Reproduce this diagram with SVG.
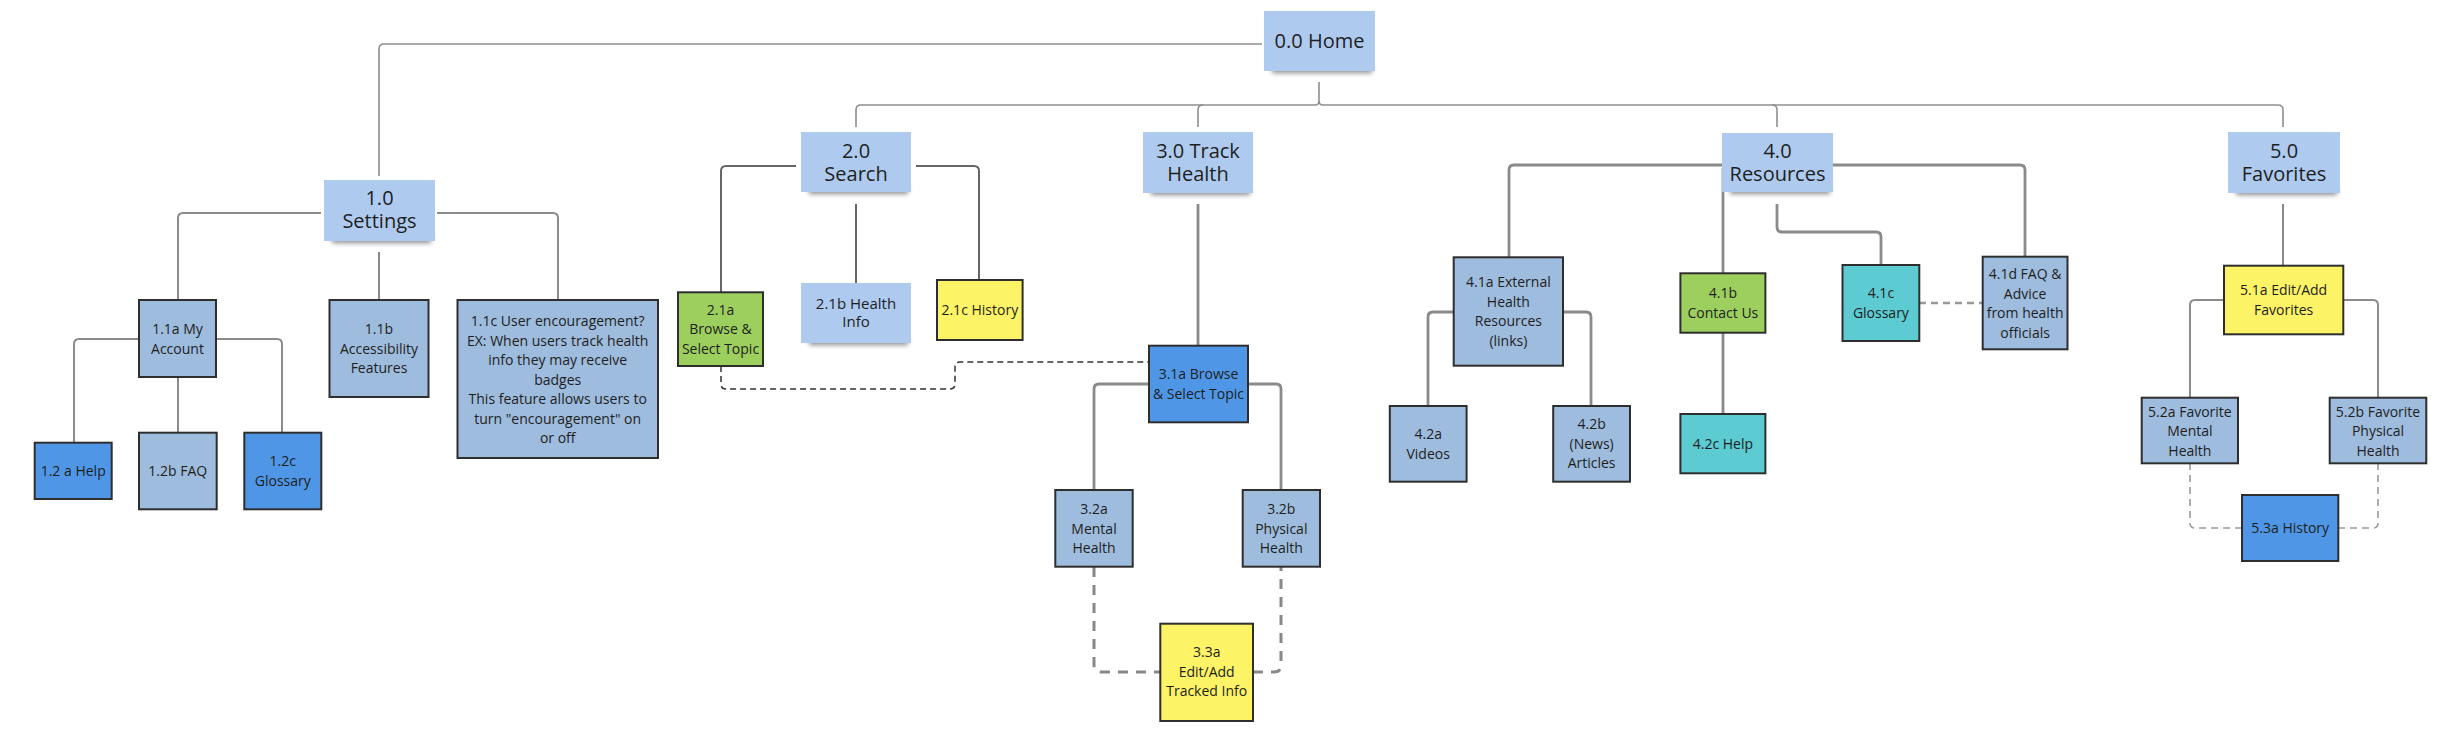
<svg xmlns="http://www.w3.org/2000/svg" width="2450" height="732" viewBox="0 0 2450 732">
<defs>
<filter id="blur" x="-20%" y="-100%" width="140%" height="300%"><feGaussianBlur stdDeviation="2.5"/></filter>
<style>
text{font-family:"Open Sans","Liberation Sans",sans-serif;fill:#1e1e1e;text-anchor:middle}
.t{font-size:20px}
.s{font-size:14px}
.n{font-size:15px}
.note{fill:#aecbef}
.shd{fill:#000;opacity:0.45;filter:url(#blur)}
.b{stroke:#2e2e2e;stroke-width:2}
.lb{fill:#9ebcdd}
.bl{fill:#4f97e6}
.gr{fill:#9dcf5f}
.ye{fill:#fdf366}
.te{fill:#5ccbd2}
.c{fill:none;stroke:#8e8e8e;stroke-width:1.6}
.c2{fill:none;stroke:#8a8a8a;stroke-width:2}
.c3{fill:none;stroke:#666;stroke-width:2}
.c4{fill:none;stroke:#8a8a8a;stroke-width:2.8}
.d1{fill:none;stroke:#333;stroke-width:1.5;stroke-dasharray:6 4}
.d2{fill:none;stroke:#888;stroke-width:3;stroke-dasharray:10 8}
.d3{fill:none;stroke:#999;stroke-width:1.6;stroke-dasharray:7 5}
</style>
</defs>
<rect width="2450" height="732" fill="#ffffff"/>
<g id="connectors">
<path class="c" d="M1262,44 H384 Q379,44 379,49 V176"/>
<path class="c" d="M1319,82 V101 Q1319,105 1315,105 H861 Q856,105 856,110 V127"/>
<path class="c" d="M1319,101 Q1319,105 1323,105 H2278 Q2283,105 2283,110 V127"/>
<path class="c" d="M1203,105 Q1198,105 1198,110 V127"/>
<path class="c" d="M1772,105 Q1777,105 1777,110 V127"/>
<path class="c2" d="M321,213 H183 Q178,213 178,218 V300"/>
<path class="c2" d="M437,213 H553 Q558,213 558,218 V300"/>
<path class="c2" d="M379,252 V300"/>
<path class="c2" d="M139,339 H79 Q74,339 74,344 V443"/>
<path class="c2" d="M216,339 H277 Q282,339 282,344 V433"/>
<path class="c2" d="M178,377 V433"/>
<path class="c3" d="M796,166 H726 Q721,166 721,171 V292"/>
<path class="c3" d="M916,166 H974 Q979,166 979,171 V280"/>
<path class="c3" d="M856,204 V283"/>
<path class="c4" d="M1198,204 V346"/>
<path class="d1" d="M721,366 V384 Q721,389 726,389 H950 Q955,389 955,384 V367 Q955,362 960,362 H1149"/>
<path class="c4" d="M1149,384 H1099 Q1094,384 1094,389 V490"/>
<path class="c4" d="M1248,384 H1276 Q1281,384 1281,389 V490"/>
<path class="d2" d="M1094,567 V665 Q1094,672 1101,672 H1160"/>
<path class="d2" d="M1253,672 H1274 Q1281,672 1281,665 V567"/>
<path class="c4" d="M1722,165 H1514 Q1509,165 1509,170 V257"/>
<path class="c4" d="M1833,165 H2020 Q2025,165 2025,170 V257"/>
<path class="c4" d="M1723,168 V273"/>
<path class="c4" d="M1777,204 V227 Q1777,232 1782,232 H1876 Q1881,232 1881,237 V265"/>
<path class="c4" d="M1723,333 V414"/>
<path class="c4" d="M1454,312 H1433 Q1428,312 1428,317 V406"/>
<path class="c4" d="M1563,312 H1586 Q1591,312 1591,317 V406"/>
<path class="d3" d="M1919,303 H1983" style="stroke-width:2.5"/>
<path class="c2" d="M2283,204 V266"/>
<path class="c2" d="M2224,300 H2195 Q2190,300 2190,305 V398"/>
<path class="c2" d="M2343,300 H2373 Q2378,300 2378,305 V398"/>
<path class="d3" d="M2190,463 V523 Q2190,528 2195,528 H2242"/>
<path class="d3" d="M2338,528 H2373 Q2378,528 2378,523 V463"/>
</g>
<g id="n00"><rect class="shd" x="1272" y="65" width="100" height="8"/><rect class="note" x="1264" y="11" width="111" height="60"/><text class="t" x="1319.5" y="48">0.0 Home</text></g>
<g id="n10"><rect class="shd" x="332" y="235" width="99" height="8"/><rect class="note" x="324" y="180" width="111" height="61"/><text class="t" x="379.5" y="205">1.0</text><text class="t" x="379.5" y="228">Settings</text></g>
<g id="n20"><rect class="shd" x="809" y="186" width="99" height="8"/><rect class="note" x="801" y="132" width="110" height="60"/><text class="t" x="856" y="158">2.0</text><text class="t" x="856" y="181">Search</text></g>
<g id="n30"><rect class="shd" x="1151" y="187" width="99" height="8"/><rect class="note" x="1143" y="132" width="110" height="61"/><text class="t" x="1198" y="158">3.0 Track</text><text class="t" x="1198" y="181">Health</text></g>
<g id="n40"><rect class="shd" x="1730" y="186" width="100" height="8"/><rect class="note" x="1722" y="133" width="111" height="59"/><text class="t" x="1777.5" y="157.5">4.0</text><text class="t" x="1777.5" y="181">Resources</text></g>
<g id="n50"><rect class="shd" x="2236" y="187" width="101" height="8"/><rect class="note" x="2228" y="132" width="112" height="61"/><text class="t" x="2284" y="158">5.0</text><text class="t" x="2284" y="181">Favorites</text></g>
<g id="n11a"><rect class="b lb" x="139" y="300" width="77" height="77"/><text class="s" x="177.5" y="334">1.1a My</text><text class="s" x="177.5" y="353.5">Account</text></g>
<g id="n11b"><rect class="b lb" x="329.5" y="300" width="99" height="97"/><text class="s" x="379" y="334">1.1b</text><text class="s" x="379" y="353.5">Accessibility</text><text class="s" x="379" y="373">Features</text></g>
<g id="n11c"><rect class="b lb" x="457.5" y="300" width="200.5" height="158"/><text class="s" x="557.7" y="326"><tspan x="557.7">1.1c User encouragement?</tspan><tspan x="557.7" dy="19.5">EX: When users track health</tspan><tspan x="557.7" dy="19.5">info they may receive</tspan><tspan x="557.7" dy="19.5">badges</tspan><tspan x="557.7" dy="19.5">This feature allows users to</tspan><tspan x="557.7" dy="19.5">turn "encouragement" on</tspan><tspan x="557.7" dy="19.5">or off</tspan></text></g>
<g id="n12a"><rect class="b bl" x="34.7" y="442.7" width="77" height="56.3"/><text class="s" x="73.2" y="476">1.2 a Help</text></g>
<g id="n12b"><rect class="b lb" x="139" y="432.7" width="77.7" height="76.6"/><text class="s" x="177.8" y="476">1.2b FAQ</text></g>
<g id="n12c"><rect class="b bl" x="244.3" y="432.7" width="77" height="76.6"/><text class="s" x="282.8" y="466">1.2c</text><text class="s" x="282.8" y="485.5">Glossary</text></g>
<g id="n21a"><rect class="b gr" x="678" y="292.3" width="85" height="73.7"/><text class="s" x="720.5" y="314.5">2.1a</text><text class="s" x="720.5" y="334">Browse &amp;</text><text class="s" x="720.5" y="353.5">Select Topic</text></g>
<g id="n21b"><rect class="shd" x="809" y="337" width="99" height="8"/><rect class="note" x="801" y="283" width="110" height="60"/><text class="n" x="856" y="309">2.1b Health</text><text class="n" x="856" y="327">Info</text></g>
<g id="n21c"><rect class="b ye" x="937" y="280" width="85.6" height="60"/><text class="s" x="979.8" y="315">2.1c History</text></g>
<g id="n31a"><rect class="b bl" x="1149" y="345.7" width="99" height="76.6"/><text class="s" x="1198.5" y="379">3.1a Browse</text><text class="s" x="1198.5" y="398.5">&amp; Select Topic</text></g>
<g id="n32a"><rect class="b lb" x="1055.3" y="490" width="77.4" height="76.7"/><text class="s" x="1094" y="514">3.2a</text><text class="s" x="1094" y="533.5">Mental</text><text class="s" x="1094" y="553">Health</text></g>
<g id="n32b"><rect class="b lb" x="1242.7" y="490" width="77.3" height="76.7"/><text class="s" x="1281.3" y="514">3.2b</text><text class="s" x="1281.3" y="533.5">Physical</text><text class="s" x="1281.3" y="553">Health</text></g>
<g id="n33a"><rect class="b ye" x="1160.3" y="623.7" width="92.7" height="97.3"/><text class="s" x="1206.7" y="657">3.3a</text><text class="s" x="1206.7" y="676.5">Edit/Add</text><text class="s" x="1206.7" y="696">Tracked Info</text></g>
<g id="n41a"><rect class="b lb" x="1453.7" y="257.3" width="109.3" height="108.4"/><text class="s" x="1508.4" y="287">4.1a External</text><text class="s" x="1508.4" y="306.5">Health</text><text class="s" x="1508.4" y="326">Resources</text><text class="s" x="1508.4" y="345.5">(links)</text></g>
<g id="n41b"><rect class="b gr" x="1680.4" y="273.3" width="85" height="59.4"/><text class="s" x="1722.9" y="298">4.1b</text><text class="s" x="1722.9" y="317.5">Contact Us</text></g>
<g id="n41c"><rect class="b te" x="1842.5" y="265" width="76.8" height="76"/><text class="s" x="1880.9" y="298">4.1c</text><text class="s" x="1880.9" y="317.5">Glossary</text></g>
<g id="n41d"><rect class="b lb" x="1982.7" y="256.7" width="84.8" height="92.6"/><text class="s" x="2025.1" y="279">4.1d FAQ &amp;</text><text class="s" x="2025.1" y="298.5">Advice</text><text class="s" x="2025.1" y="318">from health</text><text class="s" x="2025.1" y="337.5">officials</text></g>
<g id="n42a"><rect class="b lb" x="1389.8" y="406" width="76.8" height="75.7"/><text class="s" x="1428.2" y="439">4.2a</text><text class="s" x="1428.2" y="458.5">Videos</text></g>
<g id="n42b"><rect class="b lb" x="1553.2" y="406" width="76.8" height="75.7"/><text class="s" x="1591.6" y="429">4.2b</text><text class="s" x="1591.6" y="448.5">(News)</text><text class="s" x="1591.6" y="468">Articles</text></g>
<g id="n42c"><rect class="b te" x="1680.4" y="414" width="85" height="59.3"/><text class="s" x="1722.9" y="448.5">4.2c Help</text></g>
<g id="n51a"><rect class="b ye" x="2224" y="265.7" width="119.3" height="68.6"/><text class="s" x="2283.6" y="295">5.1a Edit/Add</text><text class="s" x="2283.6" y="314.5">Favorites</text></g>
<g id="n52a"><rect class="b lb" x="2141.7" y="397.7" width="96.3" height="65.6"/><text class="s" x="2189.9" y="416.5">5.2a Favorite</text><text class="s" x="2189.9" y="436">Mental</text><text class="s" x="2189.9" y="455.5">Health</text></g>
<g id="n52b"><rect class="b lb" x="2329.7" y="397.7" width="96.6" height="65.6"/><text class="s" x="2378" y="416.5">5.2b Favorite</text><text class="s" x="2378" y="436">Physical</text><text class="s" x="2378" y="455.5">Health</text></g>
<g id="n53a"><rect class="b bl" x="2242" y="495" width="96.3" height="66" /><text class="s" x="2290.2" y="533">5.3a History</text></g>
</svg>
